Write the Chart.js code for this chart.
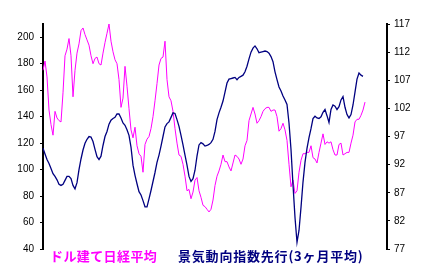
<!DOCTYPE html>
<html>
<head>
<meta charset="utf-8">
<script src="https://cdn.jsdelivr.net/npm/chart.js@4/dist/chart.umd.min.js"></script>
<style>
  body { margin: 0; background: #fff; }
  #wrap { position: relative; width: 430px; height: 273px; }
  .key { position: absolute; top: 249px; font: bold 13px "Noto Sans CJK JP", sans-serif; line-height: 13px; white-space: nowrap; }
  #keyNikkei { left: 50px; color: #ff00ff; letter-spacing: 0.4px; }
  #keyLeading { left: 178px; color: #000080; letter-spacing: 0.8px; }
</style>
</head>
<body>
<div id="wrap">
  <canvas id="chart" width="430" height="273"></canvas>
  <div class="key" id="keyNikkei">ドル建て日経平均</div>
  <div class="key" id="keyLeading">景気動向指数先行(3ヶ月平均)</div>
</div>
<script>
// left axis: Nikkei average in dollars (index)
const nikkeiUsd = [
  175, 182, 170, 145, 134, 126, 144, 139, 137, 136,
  158, 186, 191, 199, 186, 155, 175, 188, 195, 205,
  207, 202, 198, 194, 186, 180, 184, 185, 180, 179,
  188, 196, 203, 210, 197, 189, 183, 180, 168, 147,
  154, 178, 163, 146, 130, 124, 132, 118, 112, 110,
  98, 119, 123, 125, 131, 140, 152, 165, 179, 184,
  185, 197, 168, 155, 152, 144, 131, 120, 111, 110,
  104, 95, 84, 85, 78, 83, 92, 94, 84, 79,
  73, 72, 70, 68, 70, 77, 88, 95, 99, 104,
  111, 106, 106, 102, 99, 105, 111, 110, 108, 104,
  108, 118, 122, 137, 142, 147, 142, 135, 137, 140,
  144, 146, 147, 147, 144, 145, 145, 140, 129, 131,
  135, 130, 122, 104, 87, 92, 82, 84, 98, 107,
  112, 112, 113, 113, 118, 109, 108, 105, 113, 120,
  127, 119, 121, 120, 121, 115, 111, 111, 119, 120,
  111, 112, 113, 113, 120, 126, 136, 138, 138, 141,
  145, 151
];

// right axis: leading index, 3-month average
const leadingIndex = [
  94.9, 93.9, 92.9, 92.2, 91.3, 90.4, 89.9, 89.3, 88.5, 88.3,
  88.5, 89.2, 89.9, 89.9, 89.5, 88.3, 87.7, 88.8, 91.1, 93.0,
  94.6, 95.8, 96.5, 97.0, 96.9, 96.1, 94.7, 93.4, 92.9, 93.5,
  95.4, 97.0, 97.9, 99.2, 99.9, 100.2, 100.4, 101.0, 101.0, 100.3,
  99.4, 99.0, 98.2, 97.2, 95.1, 91.9, 90.1, 88.6, 87.2, 86.6,
  85.6, 84.5, 84.5, 85.9, 87.4, 89.0, 90.6, 92.4, 93.7, 95.3,
  97.0, 98.7, 99.3, 99.6, 100.4, 101.2, 101.1, 100.0, 98.8, 97.2,
  95.5, 93.7, 91.9, 89.9, 89.0, 89.5, 91.0, 93.5, 95.5, 95.9,
  95.7, 95.3, 95.4, 95.6, 95.9, 96.5, 97.9, 100.0, 101.2, 102.2,
  103.3, 104.9, 106.5, 107.2, 107.3, 107.4, 107.5, 107.1, 107.5, 107.7,
  107.9, 108.5, 109.5, 110.8, 112.0, 112.7, 113.1, 112.6, 111.9, 112.0,
  112.1, 112.2, 112.1, 111.8, 111.2, 110.3, 108.5, 107.1, 105.8, 105.1,
  104.2, 103.5, 102.7, 99.4, 94.7, 88.4, 82.6, 78.2, 80.3, 84.4,
  88.9, 92.4, 94.9, 96.8, 98.4, 100.2, 100.6, 100.3, 100.2, 100.5,
  101.3, 101.8, 100.7, 99.5, 101.8, 102.6, 102.4, 101.8, 102.3, 103.5,
  104.1, 102.2, 100.9, 100.3, 100.9, 102.6, 104.9, 107.2, 108.3, 107.9,
  107.7
];

const leftTicks = [40, 60, 80, 100, 120, 140, 160, 180, 200];
const rightTicks = [77, 82, 87, 92, 97, 102, 107, 112, 117];

// one slot per period; the axis runs a little past the last data point
const periods = Array.from({ length: 173 }, (_, i) => i);

const tickFont = { family: '"Liberation Sans", Arial, sans-serif', size: 10 };

new Chart(document.getElementById('chart'), {
  type: 'line',
  data: {
    labels: periods,
    datasets: [
      {
        label: 'ドル建て日経平均',
        data: nikkeiUsd,
        yAxisID: 'yLeft',
        borderColor: '#ff00ff',
        borderWidth: 1,
        pointRadius: 0,
        tension: 0,
        order: 2
      },
      {
        label: '景気動向指数先行(3ヶ月平均)',
        data: leadingIndex,
        yAxisID: 'yRight',
        borderColor: '#000080',
        borderWidth: 1.3,
        pointRadius: 0,
        tension: 0,
        order: 1
      }
    ]
  },
  options: {
    responsive: false,
    animation: false,
    layout: { padding: { top: 24, bottom: 24 } },
    plugins: {
      legend: { display: false },
      tooltip: { enabled: false }
    },
    scales: {
      x: { type: 'category', display: false, offset: false },
      yLeft: {
        position: 'left',
        min: 40,
        max: 210,
        afterBuildTicks: s => { s.ticks = leftTicks.map(v => ({ value: v })); },
        afterFit: s => { s.width = 43; },
        grid: { drawOnChartArea: false, color: '#000', tickLength: 3 },
        border: { color: '#000', width: 2 },
        ticks: { color: '#000', font: tickFont, padding: 6 }
      },
      yRight: {
        position: 'right',
        min: 77,
        max: 117,
        afterBuildTicks: s => { s.ticks = rightTicks.map(v => ({ value: v })); },
        afterFit: s => { s.width = 43; },
        grid: { drawOnChartArea: false, color: '#000', tickLength: 3 },
        border: { color: '#000', width: 2 },
        ticks: { color: '#000', font: tickFont, padding: 4 }
      }
    }
  }
});
</script>
</body>
</html>
